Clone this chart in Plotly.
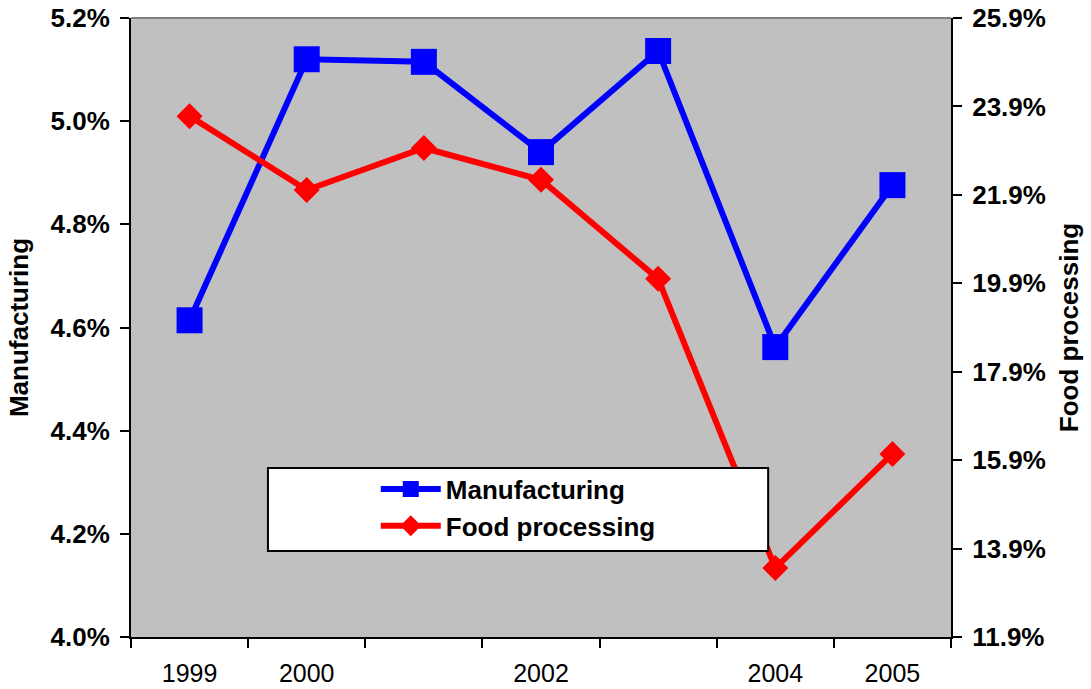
import plotly.graph_objects as go

# Years on the category axis; two of them carry no printed label
years = ["1999", "2000", "2001", "2002", "2003", "2004", "2005"]
year_labels = ["1999", "2000", "", "2002", "", "2004", "2005"]

# Shares in percent
manufacturing = [4.614, 5.120, 5.115, 4.940, 5.136, 4.562, 4.876]
food_processing = [23.68, 22.01, 22.96, 22.24, 20.00, 13.46, 16.04]

left_ticks = [4.0, 4.2, 4.4, 4.6, 4.8, 5.0, 5.2]
right_ticks = [11.9, 13.9, 15.9, 17.9, 19.9, 21.9, 23.9, 25.9]

FONT = "Liberation Sans, Arial, sans-serif"
TICK_LEN = 9
n = len(years)
boundaries = [i - 0.5 for i in range(n + 1)]


def pct(values):
    return [f"{v:.1f}%" for v in values]


fig = go.Figure()
fig.add_trace(go.Scatter(
    x=years, y=manufacturing, name="Manufacturing", mode="lines+markers",
    line=dict(color="#0000FF", width=6),
    marker=dict(symbol="square", size=26, color="#0000FF"),
    yaxis="y",
))
fig.add_trace(go.Scatter(
    x=years, y=food_processing, name="Food processing", mode="lines+markers",
    line=dict(color="#FF0000", width=6),
    marker=dict(symbol="diamond", size=20, color="#FF0000"),
    yaxis="y2",
))

bold_tick_font = dict(family=FONT, size=26, color="black", weight="bold")
title_font = dict(family=FONT, size=26, color="black", weight="bold")

fig.update_layout(
    width=1091, height=689,
    margin=dict(l=131, r=140, t=18, b=52),
    paper_bgcolor="white",
    plot_bgcolor="#C0C0C0",
    showlegend=True,
    legend=dict(
        x=0.2985, y=0.277, xanchor="left", yanchor="top",
        bgcolor="rgba(0,0,0,0)", borderwidth=0, itemwidth=60,
        font=dict(family=FONT, size=26, color="black", weight="bold"),
    ),
    xaxis=dict(
        type="category", categoryorder="array", categoryarray=years,
        tickmode="array", tickvals=years, ticktext=year_labels,
        tickson="boundaries", range=[-0.5, n - 0.5],
        ticks="outside", ticklen=TICK_LEN, tickwidth=2, tickcolor="black",
        showline=True, linecolor="black", linewidth=2,
        showgrid=False, zeroline=False, automargin=False,
        tickfont=dict(family=FONT, size=25, color="black"),
        ticklabelstandoff=13,
    ),
    xaxis2=dict(
        overlaying="x", anchor="y", type="linear", range=[-0.5, n - 0.5],
        tickmode="array", tickvals=boundaries,
        ticks="inside", ticklen=TICK_LEN, tickwidth=2, tickcolor="black",
        showticklabels=False, showline=False, showgrid=False, zeroline=False,
        automargin=False,
    ),
    yaxis=dict(
        range=[4.0, 5.2], tickmode="array", tickvals=left_ticks,
        ticktext=pct(left_ticks),
        ticks="outside", ticklen=TICK_LEN, tickwidth=2, tickcolor="black",
        showline=True, linecolor="black", linewidth=2,
        showgrid=False, zeroline=False, automargin=False,
        tickfont=bold_tick_font, ticklabelstandoff=5,
        title=dict(text="Manufacturing", font=title_font, standoff=14),
    ),
    yaxis2=dict(
        overlaying="y", side="right", anchor="x",
        range=[11.9, 25.9], tickmode="array", tickvals=right_ticks,
        ticktext=pct(right_ticks),
        ticks="outside", ticklen=TICK_LEN, tickwidth=2, tickcolor="black",
        showline=True, linecolor="black", linewidth=2,
        showgrid=False, zeroline=False, automargin=False,
        tickfont=bold_tick_font, ticklabelstandoff=5,
        title=dict(text="Food processing", font=title_font, standoff=15),
    ),
    yaxis3=dict(
        overlaying="y", side="left", anchor="x", range=[4.0, 5.2],
        tickmode="array", tickvals=left_ticks,
        ticks="inside", ticklen=TICK_LEN, tickwidth=2, tickcolor="black",
        showticklabels=False, showline=False, showgrid=False, zeroline=False,
        automargin=False,
    ),
    yaxis4=dict(
        overlaying="y", side="right", anchor="x", range=[11.9, 25.9],
        tickmode="array", tickvals=right_ticks,
        ticks="inside", ticklen=TICK_LEN, tickwidth=2, tickcolor="black",
        showticklabels=False, showline=False, showgrid=False, zeroline=False,
        automargin=False,
    ),
    shapes=[
        # grey frame edge along the top of the plot area
        dict(type="line", xref="paper", yref="paper", x0=0, x1=1, y0=1, y1=1,
             line=dict(color="#808080", width=2), layer="above"),
        # white legend panel
        dict(type="rect", xref="paper", yref="paper",
             x0=0.167, x1=0.777, y0=0.139, y1=0.273,
             fillcolor="white", line=dict(color="black", width=2), layer="above"),
    ],
)

fig.write_html("out.html")
